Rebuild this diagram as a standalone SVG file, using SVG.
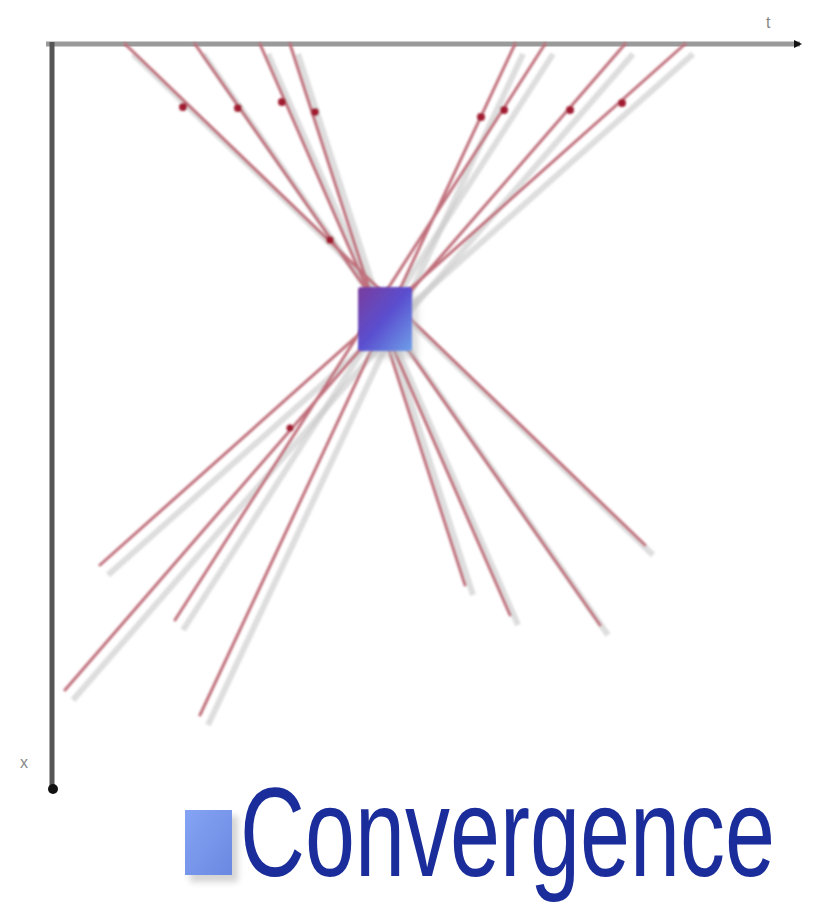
<svg xmlns="http://www.w3.org/2000/svg" width="823" height="911" viewBox="0 0 823 911">
<defs>
<filter id="blur" x="-20%" y="-20%" width="140%" height="140%"><feGaussianBlur stdDeviation="3"/></filter>
<filter id="soft" x="-5%" y="-5%" width="110%" height="110%"><feGaussianBlur stdDeviation="1"/></filter>
<linearGradient id="sq" x1="0" y1="0" x2="1" y2="1">
<stop offset="0" stop-color="#7a3c9c"/><stop offset="0.5" stop-color="#5a4fd0"/><stop offset="1" stop-color="#6fa0e8"/>
</linearGradient>
<linearGradient id="icon" x1="0" y1="0" x2="1" y2="1">
<stop offset="0" stop-color="#86a4f4"/><stop offset="1" stop-color="#6a88e0"/>
</linearGradient>
<marker id="arr" markerWidth="8" markerHeight="8" refX="6" refY="4" orient="auto" markerUnits="userSpaceOnUse">
<path d="M0,0 L8,4 L0,8 Z" fill="#111"/>
</marker>
</defs>
<style>
.ray{stroke:#c0707c;stroke-width:3;fill:none;stroke-linecap:round}
.shadow{stroke:#c8c8c8;stroke-width:6;fill:none;opacity:0.6}
.dot{fill:#a01c30}
.lbl{font-family:"Liberation Sans",Arial,sans-serif;font-size:16px;fill:#888}
</style>
<rect width="823" height="911" fill="#fff"/>
<g id="axes">
<line x1="56" y1="56" x2="800" y2="56" stroke="#e0e0e0" stroke-width="18" filter="url(#blur)"/>
<line x1="62" y1="48" x2="62" y2="790" stroke="#dcdcdc" stroke-width="16" filter="url(#blur)"/>
<line x1="46" y1="44" x2="800" y2="44" stroke="#9a9a9a" stroke-width="5" marker-end="url(#arr)"/>
<line x1="52" y1="42" x2="52" y2="788" stroke="#555" stroke-width="5"/>
<circle cx="53" cy="789" r="5" fill="#111"/>
<text class="lbl" x="766" y="28">t</text>
<text class="lbl" x="20" y="768">x</text>
</g>
<g id="connectors" filter="url(#soft)">
<g transform="translate(8,10)">
<line class="shadow" x1="125" y1="44" x2="645" y2="545"/>
<line class="shadow" x1="195" y1="44" x2="600" y2="625"/>
<line class="shadow" x1="260" y1="44" x2="510" y2="615"/>
<line class="shadow" x1="290" y1="44" x2="465" y2="585"/>
<line class="shadow" x1="685" y1="44" x2="100" y2="565"/>
<line class="shadow" x1="625" y1="44" x2="65" y2="690"/>
<line class="shadow" x1="545" y1="44" x2="175" y2="620"/>
<line class="shadow" x1="515" y1="44" x2="200" y2="715"/>
</g>
<line class="ray" x1="125" y1="44" x2="645" y2="545"/>
<line class="ray" x1="195" y1="44" x2="600" y2="625"/>
<line class="ray" x1="260" y1="44" x2="510" y2="615"/>
<line class="ray" x1="290" y1="44" x2="465" y2="585"/>
<line class="ray" x1="685" y1="44" x2="100" y2="565"/>
<line class="ray" x1="625" y1="44" x2="65" y2="690"/>
<line class="ray" x1="545" y1="44" x2="175" y2="620"/>
<line class="ray" x1="515" y1="44" x2="200" y2="715"/>
<circle class="dot" cx="183" cy="107" r="4"/>
<circle class="dot" cx="238" cy="108" r="4"/>
<circle class="dot" cx="282" cy="102" r="4"/>
<circle class="dot" cx="315" cy="112" r="4"/>
<circle class="dot" cx="481" cy="117" r="4"/>
<circle class="dot" cx="504" cy="110" r="4"/>
<circle class="dot" cx="570" cy="110" r="4"/>
<circle class="dot" cx="622" cy="103" r="4"/>
<circle class="dot" cx="330" cy="240" r="4"/>
<circle class="dot" cx="290" cy="428" r="3.5"/>
</g>
<g id="convergence-point">
<rect x="366" y="296" width="52" height="62" fill="#bbb" opacity="0.5" filter="url(#blur)"/>
<rect x="358" y="287" width="54" height="64" rx="3" fill="url(#sq)" filter="url(#soft)"/>
</g>
<g id="title">
<rect x="190" y="816" width="48" height="66" fill="#aaa" opacity="0.5" filter="url(#blur)"/>
<rect x="185" y="810" width="47" height="65" fill="url(#icon)"/>
<text transform="translate(240,876) scale(0.714,1)" x="0" y="0" font-family="'Liberation Sans',Arial,sans-serif" font-size="126" fill="#1a2d9a">Convergence</text>
</g>
</svg>
